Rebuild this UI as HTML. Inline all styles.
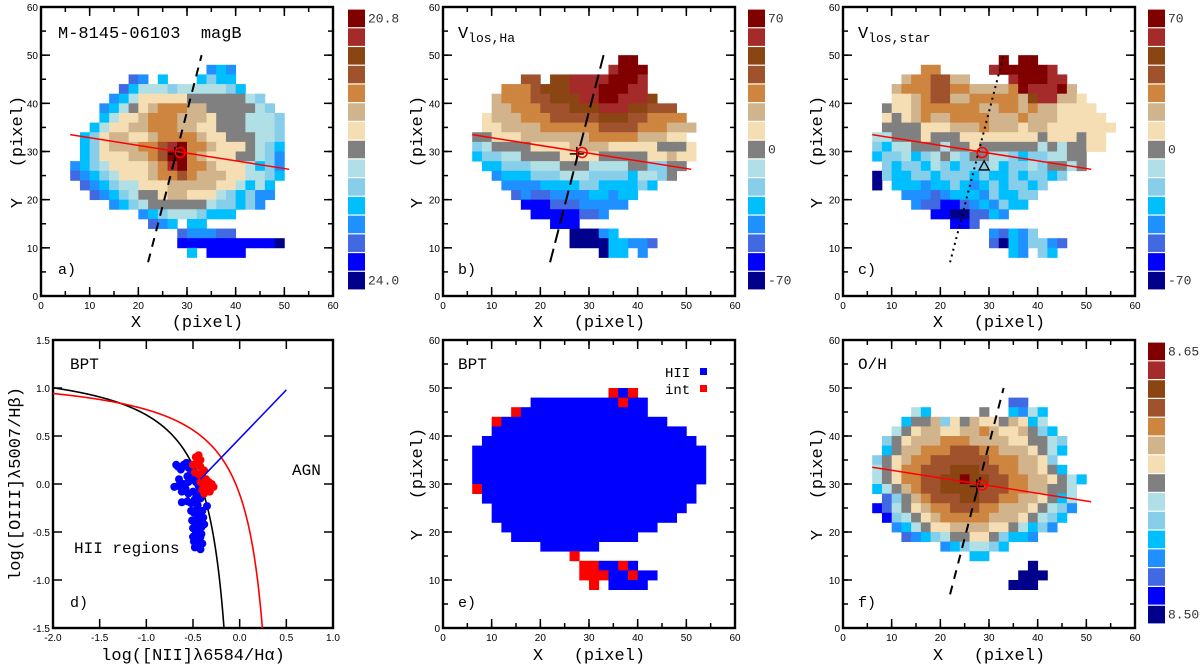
<!DOCTYPE html>
<html><head><meta charset="utf-8"><style>
html,body{margin:0;padding:0;background:#fff;}
svg{display:block;}
svg text{white-space:pre;}
.mono{font-family:"Liberation Mono",monospace;}
.sans{font-family:"Liberation Sans",sans-serif;}
</style></head><body>
<svg id="fig" width="1200" height="667" viewBox="0 0 1200 667" xmlns="http://www.w3.org/2000/svg"></svg>
<script>
const palette=['#800000','#a52a2a','#8b4513','#a0522d','#cd853f','#d2b48c','#f5deb3','#808080','#b0e0e6','#87ceeb','#00bfff','#1e90ff','#4169e1','#0000ff','#00008b'];
const levelKeys='0123456789abcde';
const mapA=["..............bab","......cb.a...a9aa",".....ca8889888889a","....ba86666677777789","...ba8765444557777789","...a866544455567778889","..a8665544455667778889",".a96556654444566777889",".a9655544310445666789a",".a9666554300456667789b","ba98666654104456668a9b","cba986665443455566889a",".cba98866655555668a8a","..cba987765566689a9bb","....ba98777777899a9b",".......ba98889aaa","........cba.aa","...........cbbbcc","...........dddddddddde","............a.dddd"];
const mapB=["...............00","..............1000",".....33.2211110001","...444322211100011","..54443322211001112","..5544433322211122333",".655544433333222334444",".6655554444443333444555","7766655555554444455566","98777766665555666667776","a9988777766667777766566",".aa9998887778888779977","..baaa9998889999a8897","...bbbbaaaa99aaaa9a","....cbccbbbbaabaa",".....dddcccbbbbb","......dddddccb","........ddd","..........eeeba","..........eeeeaabbc",".............eaa.b"];
const mapC=[".............0.00",".....44.....1000001","...5443355....100011","..5444334455554011105","..66543355444445211556",".7665444444554454556666",".67654554444555455566666",".777766655545556556666666","887776777666666667666766","9a8877787767777778787766","a998a9878977889a998877",".9a99a89a9998a99897787","e9aa99a999a9aa9a99a9","e.aaabaa9aba9a99a9","...bbbcbaaab9aa99","....bccddcbab9aa","......ddeeccab","........ddc","............bcab9","............ceab99bc","..............ab.9a"];
const mapE=["..............rdr","......dddddddddrdd","....rddddddddddddd","..rddddddddddddddddd","..dddddddddddddddddddd",".dddddddddddddddddddddd","dddddddddddddddddddddddd","dddddddddddddddddddddddd","dddddddddddddddddddddddd","dddddddddddddddddddddddd","rdddddddddddddddddddddd",".dddddddddddddddddddddd.","..dddddddddddddddddddd","..ddddddddddddddddddd","...dddddddddddddddd","....ddddddddddddd",".......dddddd","..........r","...........rrddrd","...........rrrddrdd","............r.dddd"];
const mapF=["..............cc","....8a.....7..ab8a","...a775967566756a8","..8765566554566579a",".9765554445555667789",".a75544433344555678a","9765443333334445569","8764433322233445567a","876443322022334455678a","a87543322223334455778",".c97543332233445567a8","dc876544333445556789b",".d98765444445556789a","..ba876655556678a9b","...cba98776679aab",".......ba9889a","..........aa","................e","...............eee","..............eee"];
const mapTopY=[46,48,48,48,46];
const bptBlueX=[-0.68,-0.66,-0.63,-0.6,-0.57,-0.55,-0.52,-0.5,-0.48,-0.46,-0.7,-0.65,-0.6,-0.56,-0.53,-0.5,-0.47,-0.44,-0.62,-0.58,-0.55,-0.5,-0.46,-0.43,-0.66,-0.56,-0.52,-0.48,-0.45,-0.42,-0.52,-0.49,-0.46,-0.43,-0.4,-0.51,-0.48,-0.45,-0.42,-0.39,-0.5,-0.47,-0.44,-0.41,-0.38,-0.5,-0.47,-0.44,-0.41,-0.49,-0.46,-0.43,-0.4,-0.48,-0.45,-0.42,-0.47,-0.44,-0.42,-0.35,-0.55,-0.62];
const bptBlueY=[0.2,0.18,0.15,0.2,0.22,0.17,0.2,0.15,0.12,0.08,-0.03,0.05,0.0,0.08,0.1,0.05,0.02,-0.02,-0.08,-0.05,-0.1,-0.08,-0.12,-0.06,-0.02,-0.18,-0.2,-0.16,-0.22,-0.15,-0.28,-0.3,-0.26,-0.32,-0.28,-0.38,-0.4,-0.36,-0.42,-0.35,-0.46,-0.5,-0.48,-0.45,-0.42,-0.55,-0.58,-0.54,-0.52,-0.6,-0.63,-0.58,-0.62,-0.66,-0.64,-0.68,-0.45,-0.4,-0.55,-0.23,0.02,-0.19];
const bptRedX=[-0.47,-0.44,-0.42,-0.5,-0.46,-0.42,-0.38,-0.48,-0.44,-0.4,-0.36,-0.33,-0.42,-0.38,-0.34,-0.3,-0.4,-0.36,-0.32,-0.28,-0.38,-0.34];
const bptRedY=[0.28,0.3,0.25,0.2,0.22,0.18,0.14,0.12,0.1,0.08,0.05,0.02,0.02,0.0,-0.02,0.0,-0.06,-0.04,-0.08,-0.03,-0.1,-0.06];
const cbarLabels=[["20.8","24.0"],["70","0","-70"],["70","0","-70"],["8.65","8.50"]];

const NS='http://www.w3.org/2000/svg';
const svg=document.getElementById('fig');
function mk(tag,attrs,parent){const e=document.createElementNS(NS,tag);for(const k in attrs)e.setAttribute(k,attrs[k]);(parent||svg).appendChild(e);return e;}
const panels={
a:{x0:41,x1:333,y0:7,y1:296,xmin:0,xmax:60,ymin:0,ymax:60},
b:{x0:443,x1:735,y0:7,y1:296,xmin:0,xmax:60,ymin:0,ymax:60},
c:{x0:843,x1:1135,y0:7,y1:296,xmin:0,xmax:60,ymin:0,ymax:60},
d:{x0:53,x1:333,y0:340,y1:628,xmin:-2,xmax:1,ymin:-1.5,ymax:1.5},
e:{x0:443,x1:735,y0:340,y1:628,xmin:0,xmax:60,ymin:0,ymax:60},
f:{x0:843,x1:1135,y0:340,y1:628,xmin:0,xmax:60,ymin:0,ymax:60}};
function sx(p,v){return p.x0+(v-p.xmin)/(p.xmax-p.xmin)*(p.x1-p.x0);}
function sy(p,v){return p.y1-(v-p.ymin)/(p.ymax-p.ymin)*(p.y1-p.y0);}
function txt(s,x,y,size,cls,anchor,parent,fill){const t=mk('text',{x:x,y:y,'font-size':size,'class':cls,'text-anchor':anchor||'start',fill:fill||'#000'},parent);t.textContent=s;return t;}

function drawMap(p,rows,topY,name){
  const g=mk('g',{});
  
  
  rows.forEach((row,j)=>{
    const yb=topY-2*j;
    for(let i=0;i<row.length;i++){
      const ch=row[i]; if(ch==='.')continue;
      const col=ch==='r'?'#ff0000':palette[levelKeys.indexOf(ch)];
      const x=6+2*i;
      const r=mk('rect',{x:sx(p,x),y:sy(p,yb+2),width:sx(p,x+2)-sx(p,x)+0.4,height:sy(p,yb)-sy(p,yb+2)+0.4,fill:col},g);
      
      
    }
  });
}
function drawAxes(p,name,xstep,xminor,ystep,yminor,fmt){
  const g=mk('g',{});
  
  
  const ticks=(step,len)=>{
    for(let v=p.xmin;v<=p.xmax+1e-9;v+=step){const x=sx(p,v);
      mk('line',{x1:x,y1:p.y1,x2:x,y2:p.y1-len,stroke:'#000','stroke-width':1.5},g);
      mk('line',{x1:x,y1:p.y0,x2:x,y2:p.y0+len,stroke:'#000','stroke-width':1.5},g);}
  };
  const yt=(step,len)=>{
    for(let v=p.ymin;v<=p.ymax+1e-9;v+=step){const y=sy(p,v);
      mk('line',{x1:p.x0,y1:y,x2:p.x0+len,y2:y,stroke:'#000','stroke-width':1.5},g);
      mk('line',{x1:p.x1,y1:y,x2:p.x1-len,y2:y,stroke:'#000','stroke-width':1.5},g);}
  };
  ticks(xstep,9); if(xminor)ticks(xminor,5); yt(ystep,9); if(yminor)yt(yminor,5);
  mk('rect',{x:p.x0,y:p.y0,width:p.x1-p.x0,height:p.y1-p.y0,fill:'none',stroke:'#000','stroke-width':2.4},g);
  for(let v=p.xmin;v<=p.xmax+1e-9;v+=xstep){const t=txt(fmt(v),sx(p,v),p.y1+13,10,'sans','middle',g);}
  for(let v=p.ymin;v<=p.ymax+1e-9;v+=ystep){const t=txt(fmt(v),p.x0-3,sy(p,v)+4,10,'sans','end',g);}
}
function drawCbar(x,y0,y1,labels,name){
  const g=mk('g',{});
  
  
  const h=(y1-y0)/15;
  palette.forEach((c,i)=>{mk('rect',{x:x,y:y0+i*h+0.6,width:17,height:h-1.2,fill:c},g);});
  const ys=labels.length===2?[y0+h/2,y1-h/2]:[y0+h/2,y0+7.5*h,y1-h/2];
  labels.forEach((s,i)=>{const t=txt(s,x+20,ys[i]+4,13,'mono','start',g,'#333');});
}
function overlay(p,name,dash,marker){
  const g=mk('g',{});
  
  
  mk('line',{x1:sx(p,22),y1:sy(p,7),x2:sx(p,33),y2:sy(p,50),stroke:'#000','stroke-width':2,'stroke-dasharray':dash},g);
  mk('line',{x1:sx(p,6),y1:sy(p,33.5),x2:sx(p,51),y2:sy(p,26.3),stroke:'#ff0000','stroke-width':1.5},g);
  const cx=sx(p,27.5),cy=sy(p,29.5);
  if(marker){mk('path',{d:`M${sx(p,29)-5},${sy(p,27)+4} L${sx(p,29)+5},${sy(p,27)+4} L${sx(p,29)},${sy(p,27)-5} Z`,fill:'none',stroke:'#000','stroke-width':1.3},g);}
  else{mk('line',{x1:cx-7,y1:cy,x2:cx+7,y2:cy,stroke:'#000','stroke-width':1.5},g);mk('line',{x1:cx,y1:cy-7,x2:cx,y2:cy+7,stroke:'#000','stroke-width':1.5},g);}
  mk('circle',{cx:sx(p,28.6),cy:sy(p,29.8),r:5,fill:'none',stroke:'#ff0000','stroke-width':1.5},g);
}
const f0=v=>String(Math.round(v));
const f1=v=>v.toFixed(1);
const maps=[mapA,mapB,mapC,mapE,mapF];
const keys=['a','b','c','e','f'];
keys.forEach((k,i)=>drawMap(panels[k],maps[i],mapTopY[i],'pixel-map-'+k));
overlay(panels.a,'axis-lines-a','9,7',false);
overlay(panels.b,'axis-lines-b','14,6',false);
overlay(panels.c,'axis-lines-c','2,4',true);
overlay(panels.f,'axis-lines-f','9,7',false);
['a','b','c','e','f'].forEach(k=>drawAxes(panels[k],'panel-'+k,10,5,10,5,f0));
drawAxes(panels.d,'panel-d',0.5,0,0.5,0,f1);

const pd=panels.d;
const gd=mk('g',{});


function curve(a,b,c,xe,col,nm){let d='';for(let x=-2;x<=xe;x+=0.005){const y=a/(x-b)+c;if(y<-1.5){const xx=b+a/(-1.5-c);d+=`L${sx(pd,xx)},${sy(pd,-1.5)}`;break;}d+=(d?'L':'M')+sx(pd,x)+','+sy(pd,y);}const e=mk('path',{d:d,fill:'none',stroke:col,'stroke-width':1.6},gd);}
curve(0.61,0.05,1.3,0.05,'#000','kauffmann-line');
curve(0.61,0.47,1.19,0.47,'#ff0000','kewley-line');
bptBlueX.forEach((x,i)=>{const c=mk('circle',{cx:sx(pd,x),cy:sy(pd,bptBlueY[i]),r:4,fill:'#0000ff'},gd);});
bptRedX.forEach((x,i)=>{const c=mk('circle',{cx:sx(pd,x),cy:sy(pd,bptRedY[i]),r:4,fill:'#ff0000'},gd);});
const bl=mk('line',{x1:sx(pd,-0.42),y1:sy(pd,0.05),x2:sx(pd,0.5),y2:sy(pd,0.98),stroke:'#0000ff','stroke-width':1.5},gd);



drawCbar(348,9,290,cbarLabels[0],'colorbar-magb');
drawCbar(748,9,290,cbarLabels[1],'colorbar-vha');
drawCbar(1148,9,290,cbarLabels[2],'colorbar-vstar');
drawCbar(1148,342,624,cbarLabels[3],'colorbar-oh');

function label(s,x,y,size,nm,anchor,rot){const t=txt(s,x,y,size,'mono',anchor||'start');if(rot)t.setAttribute('transform',`rotate(-90 ${x} ${y})`);return t;}
label('M-8145-06103  magB',58,38,17,'panel-a-title');
label('a)',58,274,15,'panel-a-label');
label('b)',458,274,15,'panel-b-label');
label('c)',858,274,15,'panel-c-label');
label('d)',70,607,15,'panel-d-label');
label('e)',458,607,15,'panel-e-label');
label('f)',858,607,15,'panel-f-label');
const tb=label('V',458,38,17,'panel-b-title');const sb=mk('tspan',{'font-size':13,dy:4},tb);sb.textContent='los,Ha';
const tc=label('V',858,38,17,'panel-c-title');const sc=mk('tspan',{'font-size':13,dy:4},tc);sc.textContent='los,star';
label('BPT',70,369,16,'panel-d-title');
label('HII regions',74,553,16,'hii-regions-label');
label('AGN',292,475,16,'agn-label');
label('BPT',458,369,16,'panel-e-title');
label('O/H',858,369,16,'panel-f-title');
label('HII',665,377,14,'legend-hii');
label('int',665,394,14,'legend-int');
const lq1=mk('rect',{x:700,y:368,width:7,height:7,fill:'#0000ff'});
const lq2=mk('rect',{x:700,y:385,width:7,height:7,fill:'#ff0000'});
[[187,'a'],[589,'b'],[989,'c']].forEach(([x,k])=>label('X   (pixel)',x,327,17,'x-axis-title-'+k,'middle'));
[[589,'e'],[989,'f']].forEach(([x,k])=>label('X   (pixel)',x,660,17,'x-axis-title-'+k,'middle'));
label('log([NII]λ6584/Hα)',193,660,17,'x-axis-title-d','middle');
[[22,152,'a'],[422,152,'b'],[822,152,'c'],[422,484,'e'],[822,484,'f']].forEach(([x,y,k])=>label('Y   (pixel)',x,y,17,'y-axis-title-'+k,'middle',true));
label('log([OIII]λ5007/Hβ)',20,484,17,'y-axis-title-d','middle',true);
</script>
</body></html>
